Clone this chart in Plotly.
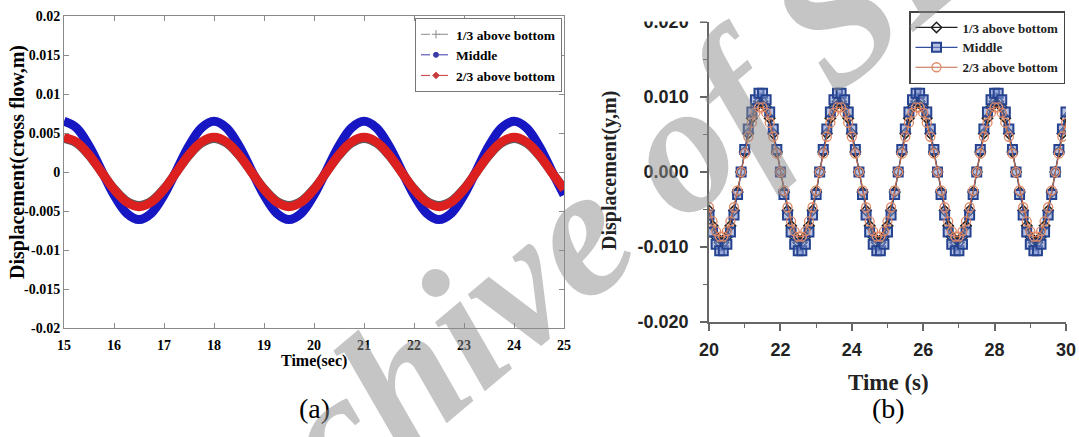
import plotly.graph_objects as go

# ---------------- panel (a): cross-flow displacement, 15-25 s ----------------
time_a = [15.0, 15.25, 15.5, 15.75, 16.0, 16.25, 16.5, 16.75, 17.0, 17.25, 17.5, 17.75,
          18.0, 18.25, 18.5, 18.75, 19.0, 19.25, 19.5, 19.75, 20.0, 20.25, 20.5, 20.75,
          21.0, 21.25, 21.5, 21.75, 22.0, 22.25, 22.5, 22.75, 23.0, 23.25, 23.5, 23.75,
          24.0, 24.25, 24.5, 24.75, 25.0]

a_third_bottom = [0.0043, 0.00372, 0.00215, 0.0, -0.00215, -0.00372, -0.0043, -0.00372, -0.00215, 0.0, 0.00215, 0.00372,
                  0.0043, 0.00372, 0.00215, 0.0, -0.00215, -0.00372, -0.0043, -0.00372, -0.00215, 0.0, 0.00215, 0.00372,
                  0.0043, 0.00372, 0.00215, 0.0, -0.00215, -0.00372, -0.0043, -0.00372, -0.00215, 0.0, 0.00215, 0.00372,
                  0.0043, 0.00372, 0.00215, 0.0, -0.00215]
a_middle = [0.0065, 0.00566, 0.00335, 0.0002, -0.00295, -0.00526, -0.0061, -0.00526, -0.00295, 0.0002, 0.00335, 0.00566,
            0.0065, 0.00566, 0.00335, 0.0002, -0.00295, -0.00526, -0.0061, -0.00526, -0.00295, 0.0002, 0.00335, 0.00566,
            0.0065, 0.00566, 0.00335, 0.0002, -0.00295, -0.00526, -0.0061, -0.00526, -0.00295, 0.0002, 0.00335, 0.00566,
            0.0065, 0.00566, 0.00335, 0.0002, -0.00295]
a_two_thirds = [0.00445, 0.00385, 0.00223, 0.0, -0.00223, -0.00385, -0.00445, -0.00385, -0.00223, 0.0, 0.00223, 0.00385,
                0.00445, 0.00385, 0.00223, 0.0, -0.00223, -0.00385, -0.00445, -0.00385, -0.00223, 0.0, 0.00223, 0.00385,
                0.00445, 0.00385, 0.00223, 0.0, -0.00223, -0.00385, -0.00445, -0.00385, -0.00223, 0.0, 0.00223, 0.00385,
                0.00445, 0.00385, 0.00223, 0.0, -0.00223]

a_xticks = [15, 16, 17, 18, 19, 20, 21, 22, 23, 24, 25]
a_yticks = [0.02, 0.015, 0.01, 0.005, 0, -0.005, -0.01, -0.015, -0.02]
a_yticktext = ["0.02", "0.015", "0.01", "0.005", "0", "-0.005", "-0.01", "-0.015", "-0.02"]

# ---------------- panel (b): displacement y, 20-30 s ----------------
time_b = [20.0, 20.1, 20.2, 20.3, 20.4, 20.5, 20.6, 20.7, 20.8, 20.9,
          21.0, 21.1, 21.2, 21.3, 21.4, 21.5, 21.6, 21.7, 21.8, 21.9,
          22.0, 22.1, 22.2, 22.3, 22.4, 22.5, 22.6, 22.7, 22.8, 22.9,
          23.0, 23.1, 23.2, 23.3, 23.4, 23.5, 23.6, 23.7, 23.8, 23.9,
          24.0, 24.1, 24.2, 24.3, 24.4, 24.5, 24.6, 24.7, 24.8, 24.9,
          25.0, 25.1, 25.2, 25.3, 25.4, 25.5, 25.6, 25.7, 25.8, 25.9,
          26.0, 26.1, 26.2, 26.3, 26.4, 26.5, 26.6, 26.7, 26.8, 26.9,
          27.0, 27.1, 27.2, 27.3, 27.4, 27.5, 27.6, 27.7, 27.8, 27.9,
          28.0, 28.1, 28.2, 28.3, 28.4, 28.5, 28.6, 28.7, 28.8, 28.9,
          29.0, 29.1, 29.2, 29.3, 29.4, 29.5, 29.6, 29.7, 29.8, 29.9,
          30.0]

b_third_bottom = [
    -0.00514, -0.00718, -0.00864, -0.0094, -0.0094, -0.00864, -0.00718, -0.00514, -0.00268, 0.0, 0.00268,
    0.00514, 0.00718, 0.00864, 0.0094, 0.0094, 0.00864, 0.00718, 0.00514, 0.00268, 0.0, -0.00268,
    -0.00514, -0.00718, -0.00864, -0.0094, -0.0094, -0.00864, -0.00718, -0.00514, -0.00268, 0.0, 0.00268,
    0.00514, 0.00718, 0.00864, 0.0094, 0.0094, 0.00864, 0.00718, 0.00514, 0.00268, 0.0, -0.00268,
    -0.00514, -0.00718, -0.00864, -0.0094, -0.0094, -0.00864, -0.00718, -0.00514, -0.00268, 0.0, 0.00268,
    0.00514, 0.00718, 0.00864, 0.0094, 0.0094, 0.00864, 0.00718, 0.00514, 0.00268, 0.0, -0.00268,
    -0.00514, -0.00718, -0.00864, -0.0094, -0.0094, -0.00864, -0.00718, -0.00514, -0.00268, 0.0, 0.00268,
    0.00514, 0.00718, 0.00864, 0.0094, 0.0094, 0.00864, 0.00718, 0.00514, 0.00268, 0.0, -0.00268,
    -0.00514, -0.00718, -0.00864, -0.0094, -0.0094, -0.00864, -0.00718, -0.00514, -0.00268, 0.0, 0.00268,
    0.00514, 0.00718]
b_middle = [
    -0.00573, -0.00801, -0.00964, -0.01049, -0.01049, -0.00964, -0.00801, -0.00573, -0.00299, 0.0, 0.00299,
    0.00573, 0.00801, 0.00964, 0.01049, 0.01049, 0.00964, 0.00801, 0.00573, 0.00299, 0.0, -0.00299,
    -0.00573, -0.00801, -0.00964, -0.01049, -0.01049, -0.00964, -0.00801, -0.00573, -0.00299, 0.0, 0.00299,
    0.00573, 0.00801, 0.00964, 0.01049, 0.01049, 0.00964, 0.00801, 0.00573, 0.00299, 0.0, -0.00299,
    -0.00573, -0.00801, -0.00964, -0.01049, -0.01049, -0.00964, -0.00801, -0.00573, -0.00299, 0.0, 0.00299,
    0.00573, 0.00801, 0.00964, 0.01049, 0.01049, 0.00964, 0.00801, 0.00573, 0.00299, 0.0, -0.00299,
    -0.00573, -0.00801, -0.00964, -0.01049, -0.01049, -0.00964, -0.00801, -0.00573, -0.00299, 0.0, 0.00299,
    0.00573, 0.00801, 0.00964, 0.01049, 0.01049, 0.00964, 0.00801, 0.00573, 0.00299, 0.0, -0.00299,
    -0.00573, -0.00801, -0.00964, -0.01049, -0.01049, -0.00964, -0.00801, -0.00573, -0.00299, 0.0, 0.00299,
    0.00573, 0.00801]
b_two_thirds = [
    -0.0047, -0.00657, -0.00791, -0.00861, -0.00861, -0.00791, -0.00657, -0.0047, -0.00245, 0.0, 0.00245,
    0.0047, 0.00657, 0.00791, 0.00861, 0.00861, 0.00791, 0.00657, 0.0047, 0.00245, 0.0, -0.00245,
    -0.0047, -0.00657, -0.00791, -0.00861, -0.00861, -0.00791, -0.00657, -0.0047, -0.00245, 0.0, 0.00245,
    0.0047, 0.00657, 0.00791, 0.00861, 0.00861, 0.00791, 0.00657, 0.0047, 0.00245, 0.0, -0.00245,
    -0.0047, -0.00657, -0.00791, -0.00861, -0.00861, -0.00791, -0.00657, -0.0047, -0.00245, 0.0, 0.00245,
    0.0047, 0.00657, 0.00791, 0.00861, 0.00861, 0.00791, 0.00657, 0.0047, 0.00245, 0.0, -0.00245,
    -0.0047, -0.00657, -0.00791, -0.00861, -0.00861, -0.00791, -0.00657, -0.0047, -0.00245, 0.0, 0.00245,
    0.0047, 0.00657, 0.00791, 0.00861, 0.00861, 0.00791, 0.00657, 0.0047, 0.00245, 0.0, -0.00245,
    -0.0047, -0.00657, -0.00791, -0.00861, -0.00861, -0.00791, -0.00657, -0.0047, -0.00245, 0.0, 0.00245,
    0.0047, 0.00657]

b_yticks = [-0.02, -0.01, 0.0, 0.01, 0.02]
b_yticktext = ["-0.020", "-0.010", "0.000", "0.010", "0.020"]
b_yminor = [-0.015, -0.005, 0.005, 0.015]

series_names = ["1/3 above bottom", "Middle", "2/3 above bottom"]

W, H = 1079, 437
SERIF = "Liberation Serif"
SANS = "Liberation Sans"


def px_x(p):
    return p / W


def px_y(p):
    return (H - p) / H


fig = go.Figure()

# panel (a): dense marker trails rendered as thick bands
band_colors = ["#5a5a5a", "#1616c2", "#dc2020"]
for vals, col in zip([a_third_bottom, a_middle, a_two_thirds], band_colors):
    fig.add_trace(go.Scatter(
        x=time_a, y=vals, mode="lines", xaxis="x", yaxis="y",
        line=dict(color=col, width=9, shape="spline", smoothing=1.0),
        showlegend=False, hoverinfo="skip"))

# panel (a) legend entries
leg_a_style = [
    dict(color="#8a8a8a", symbol="cross-thin-open", size=6),
    dict(color="#3a3aa8", symbol="circle", size=5),
    dict(color="#c83a3a", symbol="diamond", size=5),
]
for name, st in zip(series_names, leg_a_style):
    fig.add_trace(go.Scatter(
        x=[None], y=[None], mode="lines+markers", name=name, xaxis="x", yaxis="y",
        line=dict(color=st["color"], width=1, dash="dash"),
        marker=dict(color=st["color"], symbol=st["symbol"], size=st["size"],
                    line=dict(color=st["color"], width=1)),
        legend="legend"))

# panel (b): line + marker series
fig.add_trace(go.Scatter(
    x=time_b, y=b_third_bottom, mode="lines+markers", name=series_names[0],
    xaxis="x2", yaxis="y2", legend="legend2",
    line=dict(color="#222222", width=1.2),
    marker=dict(symbol="diamond-open", size=8, color="#222222", line=dict(width=1.5))))
fig.add_trace(go.Scatter(
    x=time_b, y=b_middle, mode="lines+markers", name=series_names[1],
    xaxis="x2", yaxis="y2", legend="legend2",
    line=dict(color="#34509c", width=1.2),
    marker=dict(symbol="square", size=9, color="rgba(125,145,205,0.55)",
                line=dict(color="#26438f", width=2))))
fig.add_trace(go.Scatter(
    x=time_b, y=b_two_thirds, mode="lines+markers", name=series_names[2],
    xaxis="x2", yaxis="y2", legend="legend2",
    line=dict(color="#c06a4a", width=1.2),
    marker=dict(symbol="circle-open", size=9, color="#e08a66", line=dict(width=1.3))))

axis_font_a = dict(family=SERIF, size=14, color="black", weight="bold")
axis_font_b = dict(family=SANS, size=18, color="#222222", weight="bold")

fig.update_layout(
    width=W, height=H,
    margin=dict(l=0, r=0, t=0, b=0, autoexpand=False),
    paper_bgcolor="white", plot_bgcolor="white",
    xaxis=dict(
        domain=[px_x(64), px_x(564)], range=[15, 25], anchor="y", automargin=False,
        tickvals=a_xticks, ticks="inside", ticklen=5, tickcolor="#8a8a8a",
        showline=True, linecolor="#8a8a8a", linewidth=1, mirror="allticks",
        showgrid=False, zeroline=False, tickfont=axis_font_a, ticklabelstandoff=4),
    yaxis=dict(
        domain=[px_y(328), px_y(16)], range=[-0.02, 0.02], anchor="x", automargin=False,
        tickvals=a_yticks, ticktext=a_yticktext, ticks="inside", ticklen=5,
        tickcolor="#8a8a8a", showline=True, linecolor="#8a8a8a", linewidth=1,
        mirror="allticks", showgrid=False, zeroline=False, tickfont=axis_font_a),
    xaxis2=dict(
        domain=[px_x(709), px_x(1066)], range=[20, 30], anchor="y2", automargin=False,
        tick0=20, dtick=2, ticks="outside", ticklen=7, tickwidth=1.5, tickcolor="#666666",
        minor=dict(dtick=1, ticks="outside", ticklen=4, tickcolor="#666666", tickwidth=1.2),
        showline=True, linecolor="#666666", linewidth=1.5, showgrid=False,
        zeroline=False, tickfont=axis_font_b, ticklabelstandoff=4),
    yaxis2=dict(
        domain=[px_y(322), px_y(22)], range=[-0.02, 0.02], anchor="x2", automargin=False,
        tickvals=b_yticks, ticktext=b_yticktext, ticks="outside", ticklen=7,
        tickwidth=1.5, tickcolor="#666666",
        minor=dict(tickvals=b_yminor, ticks="outside", ticklen=4, tickcolor="#666666", tickwidth=1.2),
        showline=True, linecolor="#666666", linewidth=1.5, showgrid=False,
        zeroline=False, tickfont=axis_font_b, ticklabelstandoff=8),
    legend=dict(
        x=px_x(562), y=px_y(18), xanchor="right", yanchor="top",
        bgcolor="white", bordercolor="#777777", borderwidth=1,
        font=dict(family=SERIF, size=13.5, color="black", weight="bold"),
        itemwidth=30, tracegroupgap=0),
    legend2=dict(
        x=px_x(1065), y=px_y(11), xanchor="right", yanchor="top",
        bgcolor="white", bordercolor="#444444", borderwidth=1.5,
        font=dict(family=SERIF, size=13, color="#222222", weight="bold"),
        itemwidth=42, tracegroupgap=0),
    showlegend=True,
)

annotations = [
    # page edge trims the top of the upper tick label in panel (b)
    dict(text=" ", x=px_x(668), y=1.0, yanchor="top", width=76, height=18,
         bgcolor="white", font=dict(size=8)),
    dict(text="Time(sec)", x=px_x(314), y=px_y(361),
         font=dict(family=SERIF, size=16, color="black", weight="bold")),
    dict(text="Displacement(cross flow,m)", x=px_x(17), y=px_y(162), textangle=-90,
         font=dict(family=SERIF, size=20, color="black", weight="bold")),
    dict(text="Time (s)", x=px_x(888), y=px_y(382),
         font=dict(family=SERIF, size=23, color="#222222", weight="bold")),
    dict(text="Displacement(y,m)", x=px_x(610), y=px_y(171), textangle=-90,
         font=dict(family=SERIF, size=20, color="#222222", weight="bold")),
    dict(text="(a)", x=px_x(314), y=px_y(408),
         font=dict(family=SERIF, size=28, color="black")),
    dict(text="(b)", x=px_x(888), y=px_y(408),
         font=dict(family=SERIF, size=28, color="black")),
    dict(text="Archive of SID", x=px_x(586), y=px_y(224), textangle=-40,
         font=dict(family=SERIF, size=185, color="rgba(140,140,140,0.5)",
                   weight="bold", style="italic")),
]
for a in annotations:
    a.setdefault("yanchor", "middle")
    a.update(xref="paper", yref="paper", showarrow=False, xanchor="center")
fig.update_layout(annotations=annotations)

fig.write_html("out.html")
